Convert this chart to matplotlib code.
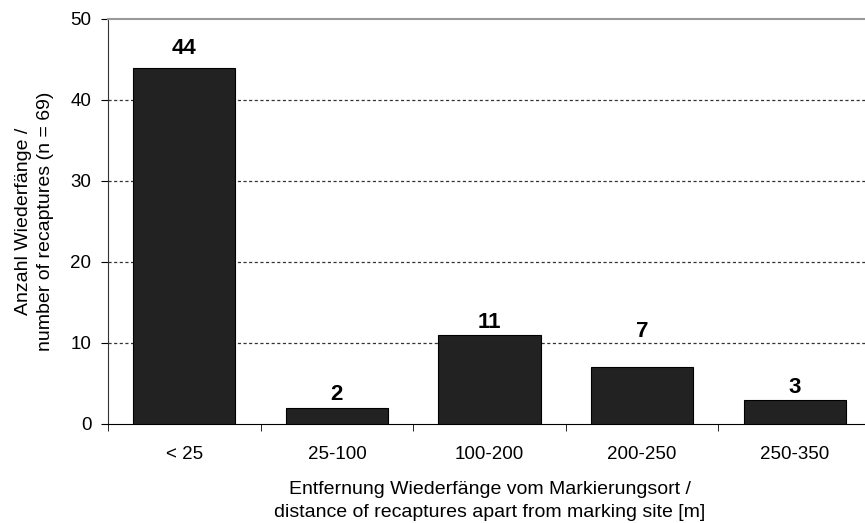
import numpy as np
import matplotlib.pyplot as plt

plt.rcParams['font.family'] = ['Liberation Sans', 'DejaVu Sans']

# Data
categories = ['< 25', '25-100', '100-200', '200-250', '250-350']
recaptures = [44, 2, 11, 7, 3]
y_ticks = [0, 10, 20, 30, 40, 50]
# gap (px) between bar top and its value label, as in the original
label_gap_px = [14, 8, 7, 30, 7]

fig = plt.figure(figsize=(8.65, 5.23), dpi=100)
ax = fig.add_axes([0.1249, 0.1893, 0.882, 0.7744])

x = np.arange(len(categories))
bars = ax.bar(x, recaptures, width=0.67, color='#222222', edgecolor='black',
              linewidth=0.8, zorder=3)

for xi, v, g in zip(x, recaptures, label_gap_px):
    ax.annotate(str(v), (xi, v), xytext=(0, g * 0.72), textcoords='offset points',
                ha='center', va='baseline', fontsize=16, fontweight='bold')

ax.set_xlim(-0.5, len(categories) - 0.5)
ax.set_ylim(0, 50)
ax.set_yticks(y_ticks)
ax.set_xticks(x)
ax.set_xticklabels(categories)
ax.set_xticks(np.arange(len(categories) + 1) - 0.5, minor=True)
ax.tick_params(axis='x', which='major', length=0, pad=16, labelsize=13.5)
ax.tick_params(axis='x', which='minor', length=5, direction='out', color='black')
ax.tick_params(axis='y', length=5, direction='out', labelsize=13.5, pad=7)

# dotted gridlines
for yv in y_ticks[1:-1]:
    ax.axhline(yv, color='#333333', linewidth=0.9, linestyle=(0, (2.5, 2)), zorder=1)

ax.spines['top'].set_color('#999999')
ax.spines['top'].set_linewidth(1.5)
ax.spines['right'].set_visible(False)
ax.spines['left'].set_color('#333333')
ax.spines['bottom'].set_color('black')

ax.set_xlabel('Entfernung Wiederfänge vom Markierungsort /\ndistance of recaptures apart from marking site [m]',
              fontsize=14, labelpad=12.5, linespacing=1.5)
ax.set_ylabel('Anzahl Wiederfänge /\nnumber of recaptures (n = 69)', fontsize=14,
              labelpad=12, linespacing=1.38)

fig.savefig('out.png', dpi=100)
